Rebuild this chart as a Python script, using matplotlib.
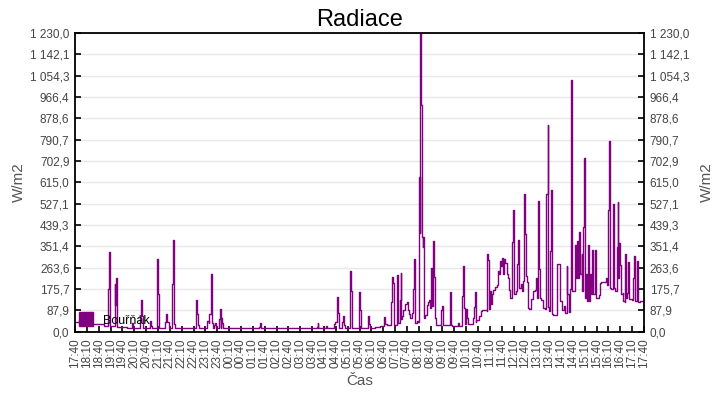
import matplotlib
matplotlib.use("Agg")
import matplotlib.pyplot as plt
from matplotlib.lines import Line2D
import numpy as np

# =========================
# DATA (minutes after 17:40, W/m2)
# =========================

minutes = [
    0, 10, 20, 44, 73, 84, 86, 88, 100, 102, 105, 107, 132, 145, 147, 164, 166, 169, 171,
    190, 192, 194, 207, 209, 212, 228, 231, 234, 237, 245, 247, 250, 253,
    305, 308, 311, 313, 333, 335, 338, 340, 344, 347, 349, 352, 354, 356, 365, 367, 369,
    370, 373, 375, 466, 468, 470, 612, 614, 616, 635, 637, 655, 658, 663, 666, 668, 676,
    678, 681, 683, 696, 699, 701, 719, 721, 724, 742, 744, 747,
    760, 772, 783, 785, 790, 800, 802, 805, 807, 816, 818, 822, 824, 826, 828, 831, 835,
    841, 843, 846, 849, 852, 856, 858, 860, 866, 869, 871, 873, 874, 876, 878, 880, 881,
    883, 887, 891, 893, 895, 898, 900, 902, 904, 906, 908, 910, 913, 927, 929, 931, 949,
    951, 955, 970, 972, 979, 981, 984, 986, 990, 992, 994,
    1008, 1010, 1012, 1014, 1016, 1023, 1027, 1030, 1035, 1042, 1043, 1046, 1048, 1050,
    1052, 1055, 1059, 1062, 1067, 1071, 1073, 1076, 1078, 1081, 1083, 1086, 1088, 1093,
    1097, 1099, 1102, 1105, 1107, 1108, 1110, 1112, 1116, 1119, 1122, 1124, 1128, 1131,
    1134, 1137, 1140, 1141, 1143, 1146, 1149, 1153, 1160, 1165, 1167, 1170, 1172, 1174,
    1176, 1180, 1184, 1190, 1193, 1196, 1197, 1200, 1203, 1205, 1207, 1210, 1219, 1220,
    1226, 1227, 1232, 1238, 1241, 1244, 1246, 1249, 1253, 1256, 1258, 1259, 1266, 1268,
    1271, 1273, 1276, 1278, 1282, 1284, 1286, 1289, 1290, 1293, 1296, 1298, 1300, 1303,
    1305, 1309, 1311, 1315, 1317, 1319, 1325, 1329, 1332, 1344, 1346, 1349, 1351, 1353,
    1357, 1362, 1364, 1367, 1371, 1373, 1375, 1377, 1380, 1382, 1386, 1388, 1391, 1393,
    1395, 1398, 1400, 1402, 1410, 1413, 1415, 1417, 1422, 1424, 1430, 1440,
]

radiation = [
    41, 48, 44, 30, 25, 174, 328, 25, 196, 110, 219, 20, 14, 34, 14, 66, 130, 66, 14,
    45, 25, 14, 298, 155, 14, 40, 72, 40, 14, 196, 377, 30, 14,
    130, 72, 27, 14, 20, 44, 34, 72, 237, 34, 14, 27, 34, 14, 52, 93, 14,
    55, 34, 14, 20, 34, 14, 20, 34, 14, 24, 14, 32, 40, 141, 75, 14, 40,
    65, 27, 14, 250, 167, 14, 163, 89, 14, 64, 32, 16,
    20, 23, 61, 33, 26, 123, 224, 199, 26, 233, 35, 132, 240, 50, 63, 90, 114,
    122, 90, 71, 55, 75, 174, 298, 35, 45, 38, 638, 405, 1229, 934, 391, 350, 391,
    55, 70, 110, 122, 132, 97, 183, 260, 104, 375, 226, 55, 28, 89, 104, 28, 162,
    27, 23, 37, 23, 145, 270, 96, 30, 94, 57, 30,
    55, 102, 165, 40, 47, 63, 85, 90, 88, 85, 319, 295, 95, 167,
    113, 154, 170, 184, 192, 250, 236, 291, 270, 305, 236, 298, 284, 236,
    222, 170, 140, 154, 370, 500, 208, 154, 167, 277, 376, 181, 195, 167,
    208, 567, 402, 229, 206, 99, 92, 136, 167, 170, 222, 140, 538, 258,
    140, 130, 99, 95, 567, 851, 102, 85, 330, 584, 74, 67, 85, 277,
    277, 127, 88, 105, 77, 270, 154, 80, 174, 1037, 563, 167, 355, 222,
    375, 222, 410, 236, 319, 167, 431, 714, 140, 236, 127, 355, 127, 236,
    154, 337, 154, 243, 337, 140, 150, 199, 203, 222, 190, 500, 785, 181,
    174, 527, 181, 167, 350, 534, 222, 364, 274, 154, 160, 127, 120, 319,
    140, 160, 288, 136, 130, 220, 312, 127, 291, 120, 124, 124,
]

series_name = "Bouřňák"
y_max = 1230.0
y_ticks = np.linspace(0, y_max, 15)
x_ticks = list(range(0, 1441, 30))
start_h, start_m = 17, 40
x_labels = []
for t in x_ticks:
    total = start_h * 60 + start_m + t
    x_labels.append(f"{(total // 60) % 24:02d}:{total % 60:02d}")


def fmt_value(v):
    return f"{v:,.1f}".replace(",", " ").replace(".", ",")


# =========================
# PLOT
# =========================

plt.rcParams["font.family"] = ["Liberation Sans", "DejaVu Sans"]
purple = "#800080"

fig = plt.figure(figsize=(7.2, 4.0), dpi=100)
ax = fig.add_axes([75 / 720, 1 - 331.6 / 400, (644 - 75) / 720, (331.6 - 33) / 400])

ax.plot(minutes, radiation, color=purple, linewidth=1.0, drawstyle="steps-post")

ax.set_xlim(0, 1440)
ax.set_ylim(0, y_max)

ax.set_yticks(y_ticks)
ax.set_yticklabels([fmt_value(v) for v in y_ticks])
ax.set_xticks(x_ticks)
ax.set_xticklabels(x_labels, rotation=90)

ax.yaxis.grid(True, color="#e8e8e8", linewidth=1.0)
ax.set_axisbelow(True)

ax.tick_params(axis="y", which="both", direction="in", length=4, width=1.2,
               left=True, right=True, labelleft=True, labelright=True,
               labelsize=8.5, labelcolor="#444444", pad=4)
ax.tick_params(axis="x", direction="in", length=4, width=1.2,
               labelsize=8.5, labelcolor="#444444", pad=5)

for side in ["left", "right", "top", "bottom"]:
    ax.spines[side].set_linewidth(1.3)
    ax.spines[side].set_color("black")

ax.set_title("Radiace", fontsize=17, pad=5)
ax.set_xlabel("Čas", fontsize=11, color="#555555", labelpad=4)
ax.set_ylabel("W/m2", fontsize=11, color="#555555", labelpad=3)
fig.text(0.982, (1 - 331.6 / 400 + 1 - 33 / 400) / 2, "W/m2", rotation=90,
         fontsize=11, color="#555555", ha="center", va="center")

handle = Line2D([], [], marker="s", linestyle="none", markersize=10,
                markerfacecolor=purple, markeredgecolor=purple)
ax.legend([handle], [series_name], loc="lower left", frameon=False,
          fontsize=9, handlelength=1.0, handletextpad=0.8,
          borderaxespad=0.1, borderpad=0.3)

plt.savefig("out.png", dpi=100)
